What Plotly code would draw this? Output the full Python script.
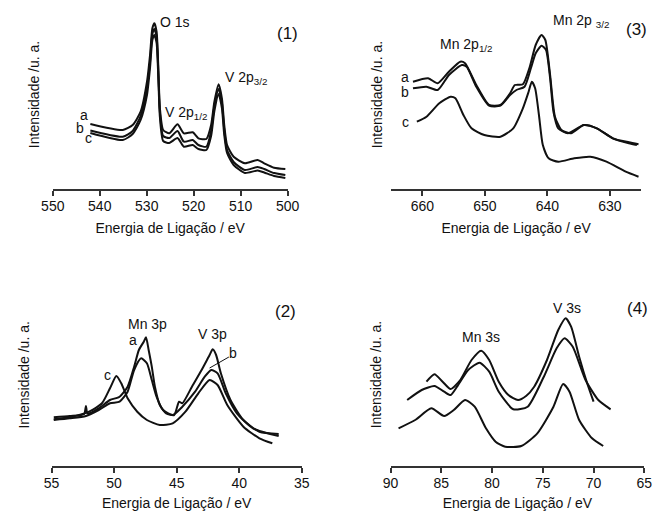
import plotly.graph_objects as go

W, H = 665, 511

# ---------------- Panel (1): O 1s / V 2p region ----------------
p1_ev = [542.0, 535.1, 533.0, 531.3, 529.95, 529.3, 528.8, 528.37, 527.9, 527.55,
         527.2, 526.5, 525.2, 523.45, 522.1, 520.2, 519.0, 517.3, 516.3, 515.6,
         514.7, 514.0, 513.5, 512.9, 511.5, 509.1, 506.4, 505.0, 502.9, 500.5]
p1_a = [65, 59, 64, 77.3, 107.3, 134, 160.7, 165.7, 157.3, 124,
        81, 59, 55.7, 64.7, 55.7, 56.7, 50.7, 50, 64, 87.3,
        104.7, 90.7, 64, 44, 32.3, 25.7, 29, 25.7, 21.3, 20]
p1_b = [58.5, 52.3, 58, 73, 101, 127, 155, 160, 152, 119,
        77, 53, 51, 58, 47.3, 49, 44, 42.3, 58, 83,
        100, 86, 59, 39, 27, 19, 22, 20, 16, 14]
p1_c = [56, 49, 55, 69, 94, 121, 149, 154, 146, 113,
        72, 48, 46, 51, 42.3, 44, 40, 39, 53, 78,
        95, 81, 54, 36, 24, 16, 18.5, 16.5, 13, 11]

# ---------------- Panel (3): Mn 2p region ----------------
p3_ev_a = [661.5, 659.08, 657.54, 655.75, 653.94, 653.17, 651.37, 649.32, 647.51, 645.97,
           645.2, 643.92, 642.89, 641.87, 640.94, 640.33, 639.56, 638.79, 637.75, 636.21,
           634.16, 632.09, 629.53, 626.96, 625.68]
p3_a = [107.3, 110.7, 105.7, 117.3, 127.3, 125.7, 104, 84, 84, 95.7,
        104, 104.7, 120.7, 144, 154, 149, 114, 72.3, 59, 55.7,
        64, 60.7, 50.7, 45.7, 44]
p3_ev_b = [661.5, 659.34, 657.54, 655.75, 653.68, 652.91, 651.37, 649.32, 647.51, 645.97,
           644.95, 643.66, 642.64, 641.87, 640.94, 640.22, 639.56, 639.03, 638.26, 636.72,
           634.16, 632.09, 629.53, 626.96, 625.42]
p3_b = [100.7, 102.3, 99, 114, 124, 122.3, 102.3, 83.3, 83.3, 94,
        99, 102.3, 120.7, 135.7, 143.3, 139, 110.7, 77.3, 60.7, 55.7,
        64, 60.7, 50.7, 46.7, 44.7]
p3_ev_c = [660.88, 659.34, 657.29, 655.49, 654.71, 653.43, 652.14, 650.09, 647.51, 645.46,
           643.92, 643.0, 642.49, 641.96, 641.35, 640.73, 639.8, 638.26, 635.7, 633.13,
           630.55, 627.47, 625.42]
p3_c = [67.3, 72.3, 85.7, 92.3, 90.7, 74, 60.7, 54, 52.3, 60.7,
        80.7, 97.3, 107.3, 100.7, 74, 44, 30.7, 27.3, 30.7, 32.3,
        27.3, 17.3, 12.3]

# ---------------- Panel (2): Mn 3p / V 3p region ----------------
p2_ev_a = [54.82, 53.54, 52.4, 52.25, 52.12, 51.23, 50.33, 49.56, 48.92, 48.4,
           48.02, 47.63, 47.45, 47.24, 46.99, 46.74, 46.35, 45.84, 45.2, 44.81,
           44.55, 43.78, 43.01, 42.37, 42.12, 41.85, 41.47, 40.7, 39.67, 38.39, 36.85]
p2_a = [48.7, 50, 52, 60, 52.5, 57.7, 66, 69.3, 79.3, 99.3,
        116, 124.3, 128.7, 116, 99.3, 79.3, 61, 52.7, 51, 64.3,
        62.7, 79.3, 96, 111, 116.7, 111, 92.7, 66, 46, 34.3, 32]
p2_ev_b = [54.82, 53.54, 52.25, 51.23, 50.33, 49.56, 48.92, 48.4, 47.84, 47.38,
           46.99, 46.61, 46.09, 45.32, 44.55, 43.53, 42.76, 42.24, 41.73, 41.08,
           40.19, 38.9, 36.85]
p2_b = [46, 47.7, 50, 56, 62.7, 64.3, 74.3, 96, 107.7, 102.7,
        86, 69.3, 56, 51, 59.3, 74.3, 89.3, 96, 92.7, 72.7,
        52.7, 37.7, 30]
p2_ev_c = [54.82, 53.54, 52.0, 50.97, 50.33, 49.82, 49.43, 48.92, 48.15, 47.38,
           46.35, 45.32, 44.3, 43.27, 42.37, 41.73, 40.96, 39.67, 38.39, 37.36]
p2_c = [46.7, 48.7, 54.3, 62.7, 77.7, 90, 82.7, 67.7, 54.3, 46,
        41, 42.7, 54.3, 72.7, 86, 81, 61, 39.3, 27.7, 22.7]

# ---------------- Panel (4): Mn 3s / V 3s region ----------------
p4_ev_a = [86.46, 85.67, 84.87, 84.08, 83.13, 82.02, 81.07, 80.28, 79.34, 78.39,
           77.44, 76.65, 75.85, 74.59, 73.48, 72.75, 72.21, 71.42, 70.63, 70.0]
p4_a = [84.3, 91.7, 84.3, 77, 86, 106, 115.3, 106, 84.3, 71,
        66, 70, 79.3, 106, 136, 147.7, 139.3, 109.3, 82.7, 64.3]
p4_ev_b = [88.36, 86.93, 85.67, 84.72, 84.08, 83.45, 82.35, 81.23, 80.28, 79.34,
           77.91, 76.49, 74.9, 73.64, 72.85, 72.05, 70.79, 69.53, 68.32]
p4_b = [66, 76, 80, 74.3, 71, 79.3, 96, 103.3, 94.3, 74.3,
        56.7, 59.3, 89.3, 117.7, 127.7, 119.3, 86, 66, 56.7]
p4_ev_c = [89.21, 87.57, 85.98, 84.72, 83.77, 82.66, 81.71, 80.6, 79.65, 78.7,
           77.12, 75.54, 73.95, 73.0, 72.37, 71.42, 70.15, 69.05]
p4_c = [37.7, 46, 57.7, 50, 56, 66, 59.3, 37.7, 24.3, 19.3,
        20, 32.7, 59.3, 82, 74.3, 46, 27.7, 20]

FONT = "Arial, Liberation Sans, Helvetica, sans-serif"
INK = "#111111"

fig = go.Figure()


def curve(x, y, ax):
    fig.add_trace(go.Scatter(
        x=x, y=y, mode="lines", xaxis="x" + ax, yaxis="y" + ax,
        line=dict(color=INK, width=2, shape="spline", smoothing=0.6),
        hoverinfo="skip", showlegend=False))


curve(p1_ev, p1_a, "")
curve(p1_ev, p1_b, "")
curve(p1_ev, p1_c, "")
curve(p3_ev_a, p3_a, "2")
curve(p3_ev_b, p3_b, "2")
curve(p3_ev_c, p3_c, "2")
curve(p2_ev_a, p2_a, "3")
curve(p2_ev_b, p2_b, "3")
curve(p2_ev_c, p2_c, "3")
curve(p4_ev_a, p4_a, "4")
curve(p4_ev_b, p4_b, "4")
curve(p4_ev_c, p4_c, "4")


def xax(domain, rng, dtick, anchor):
    return dict(domain=domain, range=rng, dtick=dtick, tick0=0, anchor=anchor,
                showline=True, linecolor="#333333", linewidth=1.5,
                ticks="outside", ticklen=5, tickwidth=1.5, tickcolor="#333333",
                showgrid=False, zeroline=False, ticklabelstandoff=-2,
                tickfont=dict(family=FONT, size=14, color=INK),
                title=dict(text="Energia de Ligação / eV", standoff=11,
                           font=dict(family=FONT, size=14, color=INK)))


def yax(domain, rng, anchor):
    return dict(domain=domain, range=rng, anchor=anchor, showline=False,
                showticklabels=False, ticks="", showgrid=False, zeroline=False)


top = [1 - 189 / H, 1 - 15 / H]
bot = [1 - 466 / H, 1 - 295 / H]

fig.update_layout(
    width=W, height=H, margin=dict(l=0, r=0, t=0, b=0),
    paper_bgcolor="white", plot_bgcolor="white",
    font=dict(family=FONT, size=14, color=INK),
    xaxis=xax([42.3 / W, 286 / W], [550, 500], 10, "y"),
    yaxis=yax(top, [0, 174], "x"),
    xaxis2=xax([393.3 / W, 652.7 / W], [665, 625], 10, "y2"),
    yaxis2=yax(top, [0, 174], "x2"),
    xaxis3=xax([41 / W, 300.7 / W], [55, 35], 5, "y3"),
    yaxis3=yax(bot, [0, 171], "x3"),
    xaxis4=xax([392.7 / W, 656 / W], [90, 65], 5, "y4"),
    yaxis4=yax(bot, [0, 171], "x4"),
)

ann = []


def label(text, x, y, ax, size=14):
    ann.append(dict(text=text, x=x, y=y, xref="x" + ax, yref="y" + ax,
                    showarrow=False, xanchor="center", yanchor="middle",
                    font=dict(family=FONT, size=size, color=INK)))


# panel (1)
label("O 1s", 523.9, 167.5, "")
label("V 2p<sub>1/2</sub>", 521.6, 76, "")
label("V 2p<sub>3/2</sub>", 508.8, 111, "")
label("(1)", 500.0, 156, "", 17)
label("a", 543.3, 74, "")
label("b", 544.3, 61, "")
label("c", 542.3, 51, "")
# panel (3)
label("Mn 2p<sub>1/2</sub>", 652.9, 144, "2")
label("Mn 2p <sub>3/2</sub>", 634.7, 168, "2")
label("(3)", 625.7, 160, "2", 17)
label("a", 662.7, 112, "2")
label("b", 662.7, 97, "2")
label("c", 662.7, 67, "2")
# panel (2)
label("Mn 3p", 47.3, 142, "3")
label("V 3p", 42.1, 132, "3")
label("(2)", 36.3, 155, "3", 17)
label("a", 48.5, 126, "3")
label("c", 50.5, 91, "3")
label("b", 40.5, 113, "3")
# panel (4)
label("Mn 3s", 81.1, 129, "4")
label("V 3s", 72.6, 158, "4")
label("(4)", 65.7, 158, "4", 17)

# rotated intensity titles, one per panel
for px, py in [(23, 95), (379, 95), (12, 375), (378, 375)]:
    ann.append(dict(text="Intensidade /u. a.", x=px / W, y=1 - py / H,
                    xref="paper", yref="paper", showarrow=False, textangle=-90,
                    xanchor="center", yanchor="middle",
                    font=dict(family=FONT, size=14, color=INK)))

fig.update_layout(annotations=ann)

# leader line from the "b" label to its curve in panel (2)
fig.add_shape(type="line", xref="x3", yref="y3", x0=40.83, y0=109, x1=42.37, y1=98,
              line=dict(color=INK, width=1))

fig.write_html("out.html")
